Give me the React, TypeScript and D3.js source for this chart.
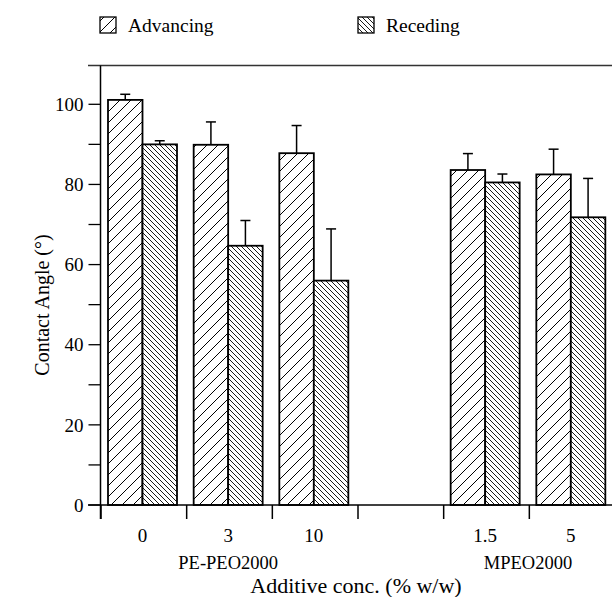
import React, { useEffect, useRef } from 'react'
import * as d3 from 'd3'

// data
const categories = ['0', '3', '10', '', '1.5', '5']
const series = ['Advancing', 'Receding']
const advancing = [101.1, 89.9, 87.8, null, 83.6, 82.5]
const advancingErr = [1.4, 5.7, 6.9, null, 4.1, 6.3]
const receding = [90.0, 64.7, 56.0, null, 80.5, 71.8]
const recedingErr = [0.9, 6.3, 12.9, null, 2.1, 9.7]
const yTicks = [0, 20, 40, 60, 80, 100]
const yMinorTicks = [10, 30, 50, 70, 90]
const groupLabels = [
  { text: 'PE-PEO2000', from: '0', to: '10' },
  { text: 'MPEO2000', from: '1.5', to: '5' },
]

const W = 612
const H = 597
const FONT = '"Liberation Serif", "DejaVu Serif", serif'

export default function App() {
  const ref = useRef<SVGSVGElement | null>(null)

  useEffect(() => {
    const svg = d3.select(ref.current)
    svg.selectAll('*').remove()

    const left = 100.5
    const top = 65.5
    const bottom = 505

    // one slot per category, ticks on the slot borders
    const x = d3.scaleBand<string>()
      .domain(categories.map((c, i) => i + ':' + c))
      .range([101, 615])
      .paddingInner(0)
      .paddingOuter(0)
    const inner = d3.scaleBand<string>()
      .domain(series)
      .range([7, 7 + 69])

    const y = d3.scaleLinear().domain([0, 100]).range([bottom, 104.3])

    // patterns
    const defs = svg.append('defs')
    const adv = defs.append('pattern')
      .attr('id', 'hatchAdv')
      .attr('patternUnits', 'userSpaceOnUse')
      .attr('width', 11).attr('height', 11)
    adv.append('rect').attr('width', 11).attr('height', 11).attr('fill', '#fff')
    adv.append('path')
      .attr('d', 'M-1,1 L1,-1 M0,11 L11,0 M10,12 L12,10')
      .attr('stroke', '#000').attr('stroke-width', 1)
    const rec = defs.append('pattern')
      .attr('id', 'hatchRec')
      .attr('patternUnits', 'userSpaceOnUse')
      .attr('width', 5).attr('height', 5)
    rec.append('rect').attr('width', 5).attr('height', 5).attr('fill', '#fff')
    rec.append('path')
      .attr('d', 'M-1,4 L1,6 M0,0 L5,5 M4,-1 L6,1')
      .attr('stroke', '#000').attr('stroke-width', 0.9)

    const fills: Record<string, string> = { Advancing: 'url(#hatchAdv)', Receding: 'url(#hatchRec)' }
    const values: Record<string, (number | null)[]> = { Advancing: advancing, Receding: receding }
    const errs: Record<string, (number | null)[]> = { Advancing: advancingErr, Receding: recedingErr }

    // top frame line
    svg.append('line')
      .attr('x1', 88).attr('x2', W).attr('y1', top).attr('y2', top)
      .attr('stroke', '#333').attr('stroke-width', 1.5)

    // bars
    const g = svg.append('g')
    categories.forEach((c, i) => {
      const x0 = x(i + ':' + c) as number
      series.forEach(s => {
        const v = values[s][i]
        const e = errs[s][i]
        if (v == null) return
        const bx = x0 + (inner(s) as number)
        const bw = inner.bandwidth()
        g.append('rect')
          .attr('x', bx).attr('y', y(v))
          .attr('width', bw).attr('height', y(0) - y(v))
          .attr('fill', fills[s])
          .attr('stroke', '#000').attr('stroke-width', 1.8)
        if (e != null) {
          const cx = bx + bw / 2
          g.append('line')
            .attr('x1', cx).attr('x2', cx)
            .attr('y1', y(v)).attr('y2', y(v + e))
            .attr('stroke', '#000').attr('stroke-width', 1.5)
          g.append('line')
            .attr('x1', cx - 5).attr('x2', cx + 5)
            .attr('y1', y(v + e)).attr('y2', y(v + e))
            .attr('stroke', '#000').attr('stroke-width', 1.5)
        }
      })
    })

    // y axis
    const ya = svg.append('g').attr('transform', `translate(${left},0)`)
    ya.append('line')
      .attr('x1', 0).attr('x2', 0).attr('y1', top).attr('y2', 519)
      .attr('stroke', '#000').attr('stroke-width', 1.5)
    ya.selectAll('line.tick')
      .data(yTicks.concat(yMinorTicks))
      .enter().append('line')
      .attr('class', 'tick')
      .attr('x1', -12).attr('x2', 0)
      .attr('y1', d => y(d)).attr('y2', d => y(d))
      .attr('stroke', '#000').attr('stroke-width', 1.3)
    ya.selectAll('text')
      .data(yTicks)
      .enter().append('text')
      .attr('x', -17).attr('y', d => y(d))
      .attr('dy', '0.35em')
      .attr('text-anchor', 'end')
      .attr('font-family', FONT).attr('font-size', 19)
      .text(d => d)

    // x axis
    svg.append('line')
      .attr('x1', 88).attr('x2', W).attr('y1', bottom).attr('y2', bottom)
      .attr('stroke', '#000').attr('stroke-width', 1.5)
    const tickXs = categories.map((c, i) => x(i + ':' + c) as number).concat([615])
    svg.selectAll('line.xtick')
      .data(tickXs)
      .enter().append('line')
      .attr('class', 'xtick')
      .attr('x1', d => d).attr('x2', d => d)
      .attr('y1', bottom).attr('y2', 519)
      .attr('stroke', '#000').attr('stroke-width', 1.5)
    svg.selectAll('text.xlab')
      .data(categories.map((c, i) => ({ c, i })).filter(d => d.c !== ''))
      .enter().append('text')
      .attr('class', 'xlab')
      .attr('x', d => (x(d.i + ':' + d.c) as number) + 7 + inner.bandwidth())
      .attr('y', 542)
      .attr('text-anchor', 'middle')
      .attr('font-family', FONT).attr('font-size', 19)
      .text(d => d.c)

    groupLabels.forEach(gl => {
      const a = categories.indexOf(gl.from)
      const b = categories.indexOf(gl.to)
      const xa = (x(a + ':' + gl.from) as number) + 7 + inner.bandwidth()
      const xb = (x(b + ':' + gl.to) as number) + 7 + inner.bandwidth()
      svg.append('text')
        .attr('x', (xa + xb) / 2).attr('y', 569)
        .attr('text-anchor', 'middle')
        .attr('font-family', FONT).attr('font-size', 18.5)
        .text(gl.text)
    })

    svg.append('text')
      .attr('x', 356).attr('y', 593)
      .attr('text-anchor', 'middle')
      .attr('font-family', FONT).attr('font-size', 22)
      .text('Additive conc. (% w/w)')

    svg.append('text')
      .attr('transform', `translate(49,305) rotate(-90)`)
      .attr('text-anchor', 'middle')
      .attr('font-family', FONT).attr('font-size', 20)
      .text('Contact Angle (°)')

    // legend
    const legendX = [100, 358]
    series.forEach((s, i) => {
      svg.append('rect')
        .attr('x', legendX[i]).attr('y', 17)
        .attr('width', 16).attr('height', 16)
        .attr('fill', fills[s])
        .attr('stroke', '#000').attr('stroke-width', 1.3)
      svg.append('text')
        .attr('x', legendX[i] + 28).attr('y', 32)
        .attr('font-family', FONT).attr('font-size', 19.5)
        .text(s)
    })
  }, [])

  return (
    <svg
      ref={ref}
      width={W}
      height={H}
      style={{ position: 'absolute', left: 0, top: 0, background: '#fff' }}
    />
  )
}
